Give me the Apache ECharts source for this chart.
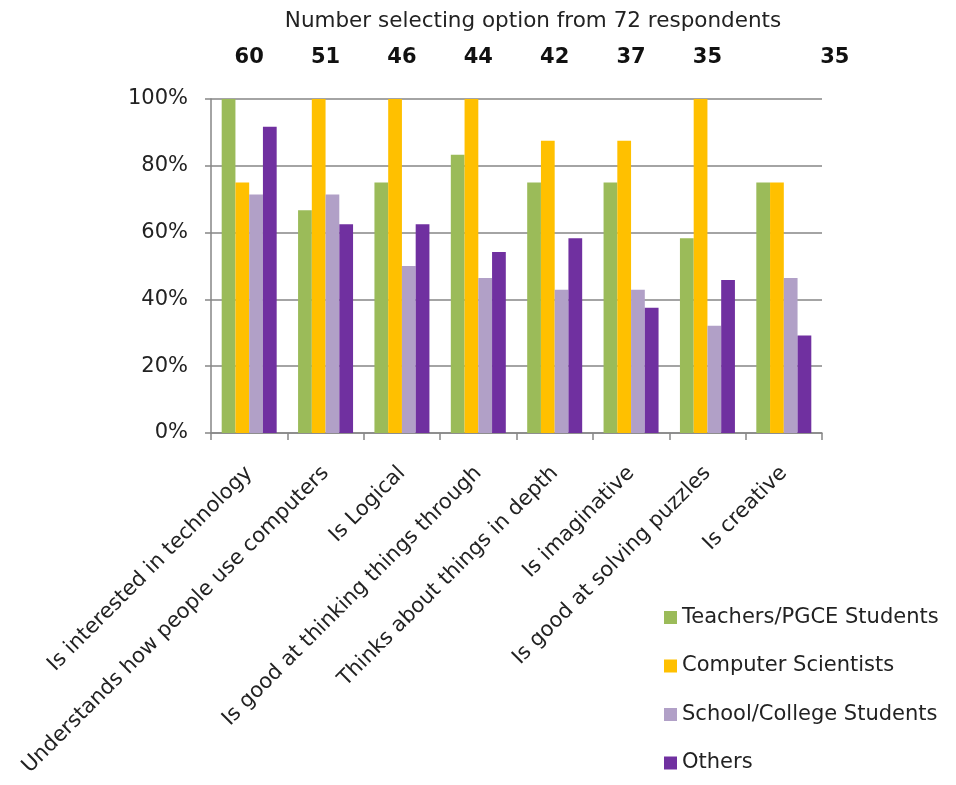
<!DOCTYPE html>
<html>
<head>
<meta charset="utf-8">
<script src="https://cdn.jsdelivr.net/npm/echarts@6/dist/echarts.min.js"></script>
<style>html,body{margin:0;padding:0;background:#fff;}#c{width:956px;height:785px;}</style>
</head>
<body>
<div id="c"></div>
<script>
const categories = ["Is interested in technology","Understands how people use computers","Is Logical","Is good at thinking things through","Thinks about things in depth","Is imaginative","Is good at solving puzzles","Is creative"];
const counts = [60, 51, 46, 44, 42, 37, 35, 35];
const teachers = [100, 66.7, 75, 83.3, 75, 75, 58.3, 75];
const compSci = [75, 100, 100, 100, 87.5, 87.5, 100, 75];
const students = [71.4, 71.4, 50, 46.4, 42.9, 42.9, 32.1, 46.4];
const others = [91.7, 62.5, 62.5, 54.2, 58.3, 37.5, 45.8, 29.2];
const seriesNames = ["Teachers/PGCE Students","Computer Scientists","School/College Students","Others"];
const colors = ["#9BBB59","#FFC000","#B1A0C7","#7030A0"];
const titleText = "Number selecting option from 72 respondents";

const FONT = "DejaVu Sans";
const FS = 21;
const chart = echarts.init(document.getElementById('c'));
const gray = "#868686";
chart.setOption({
  animation: false,
  textStyle: {fontFamily: FONT},
  title: {text: titleText, top: 5, left: 528, textAlign: 'center', textStyle: {fontFamily: FONT, fontSize: 21.5, fontWeight: 'normal', color: '#222'}},
  legend: {
    orient: 'vertical', left: 664, top: 607, padding: 0, itemWidth: 13, itemHeight: 13, itemGap: 27.5,
    icon: 'rect', data: seriesNames,
    textStyle: {fontFamily: FONT, fontSize: FS, color: '#222'}
  },
  grid: {left: 211, right: 134, top: 99, bottom: 352},
  xAxis: [{
    type: 'category', data: categories, position: 'bottom',
    axisLine: {lineStyle: {color: gray, width: 1.5}},
    axisTick: {show: true, length: 7, lineStyle: {color: gray, width: 1.5}},
    axisLabel: {rotate: 45, interval: 0, margin: 37, fontFamily: FONT, fontSize: FS, color: '#222'}
  }, {
    type: 'category', data: counts, position: 'top',
    axisLine: {show: false}, axisTick: {show: false},
    axisLabel: {interval: 0, margin: 31, fontFamily: FONT, fontSize: 21, fontWeight: 'bold', color: '#111',
      formatter: function(v, i){ return i === counts.length - 1 ? '{last|' + v + '}' : v; },
      rich: {last: {fontFamily: FONT, fontSize: 21, fontWeight: 'bold', color: '#111', padding: [0,0,0,102]}}
    }
  }],
  yAxis: {
    type: 'value', min: 0, max: 100, interval: 20,
    axisLine: {show: true, lineStyle: {color: gray, width: 1.5}},
    axisTick: {show: true, length: 6, lineStyle: {color: gray, width: 1.5}},
    splitLine: {lineStyle: {color: gray, width: 1.5}},
    axisLabel: {formatter: '{value}%', margin: 23, fontFamily: FONT, fontSize: FS, color: '#222'}
  },
  series: [teachers, compSci, students, others].map((d, i) => ({
    name: seriesNames[i], type: 'bar', data: d, xAxisIndex: 0,
    barGap: 0, barCategoryGap: '28%',
    itemStyle: {color: colors[i]}
  }))
});
</script>
</body>
</html>
